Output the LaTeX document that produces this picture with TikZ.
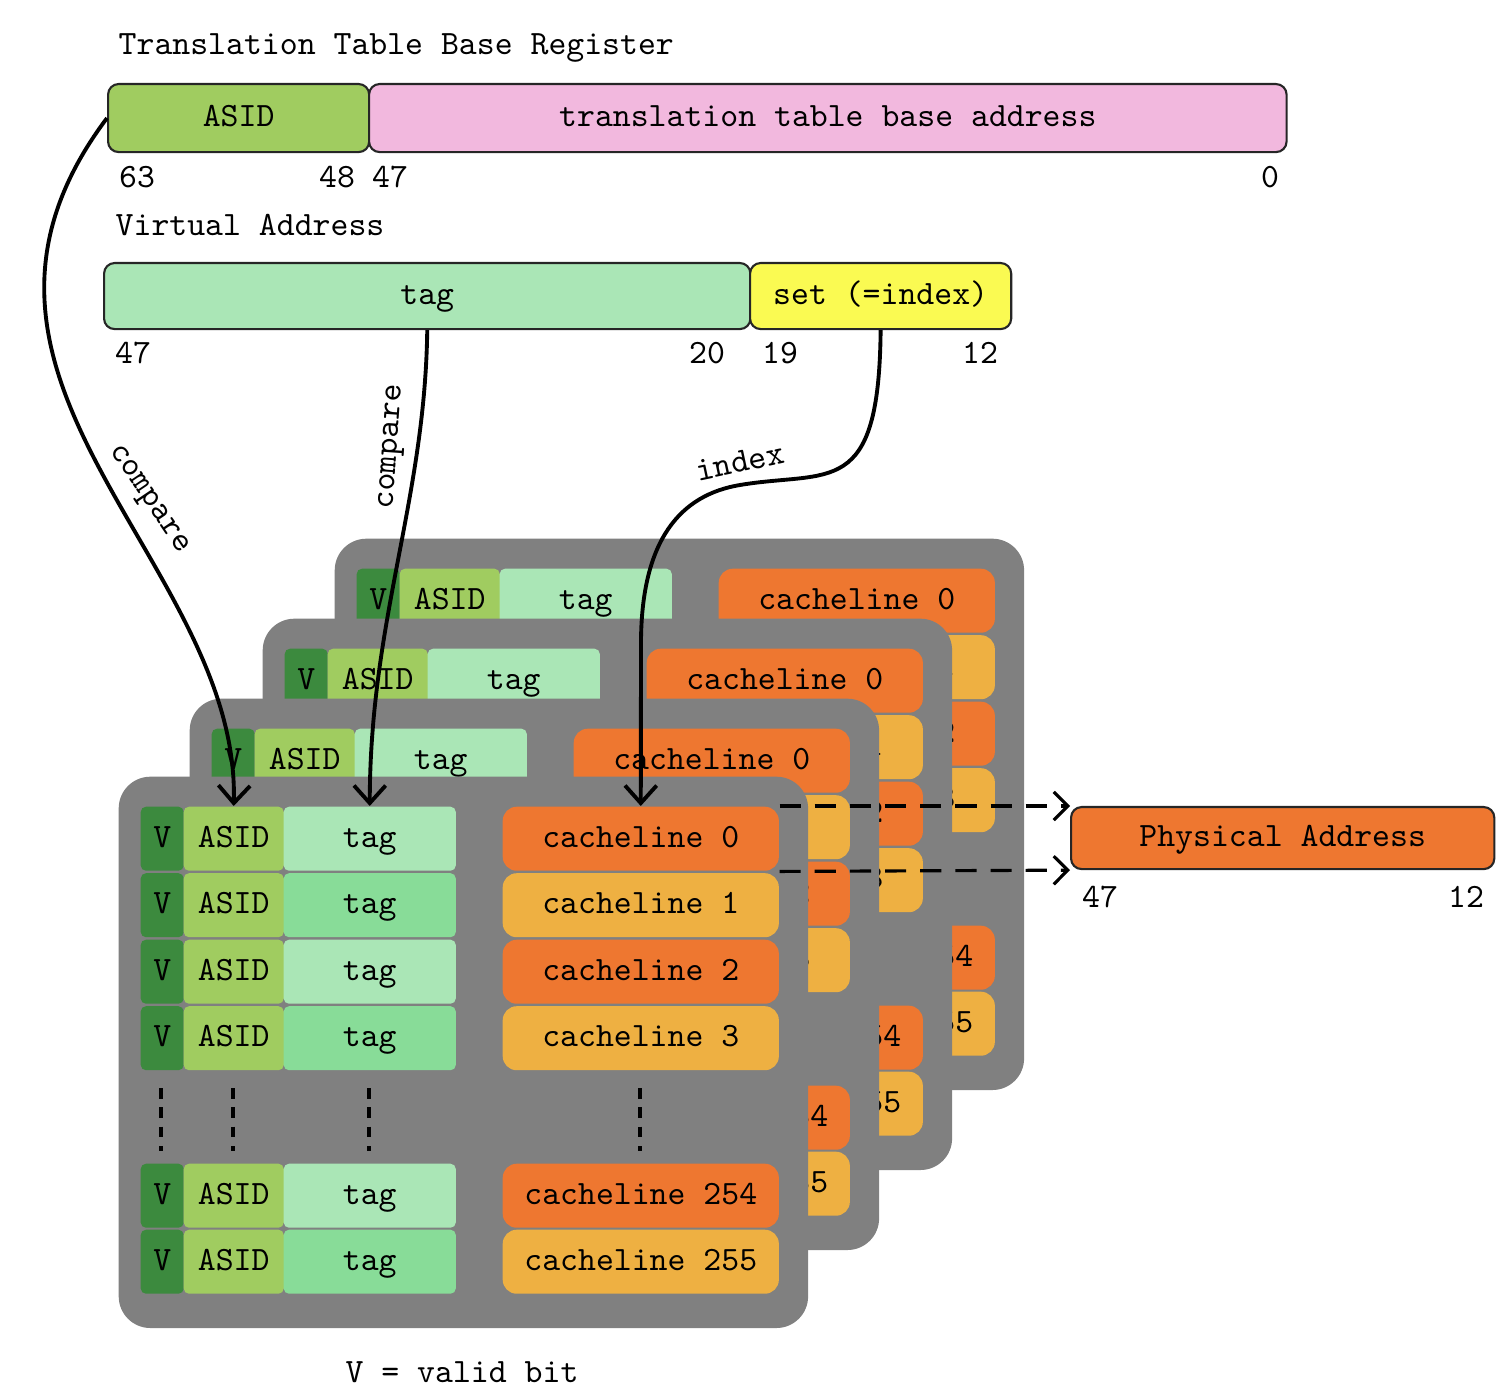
\documentclass[tikz,border=0pt]{standalone}
\usepackage{fontspec}
\usepackage{tikz}
\usetikzlibrary{arrows.meta, positioning}

\newcommand{\handfont}{\ttfamily\fontsize{9.7}{11}\selectfont}

\definecolor{asidgreen}{RGB}{160,204,96}
\definecolor{vgreen}{RGB}{60,138,62}
\definecolor{tagA}{RGB}{170,230,182}
\definecolor{tagB}{RGB}{136,220,152}
\definecolor{basepink}{RGB}{242,184,222}
\definecolor{setyellow}{RGB}{250,250,82}
\definecolor{clA}{RGB}{238,119,48}
\definecolor{clB}{RGB}{238,176,66}
\definecolor{panelgray}{RGB}{128,128,128}

\tikzset{
  regbox/.style={rectangle, rounded corners=3pt, draw=black!85,
                 line width=0.6pt, anchor=north west, inner sep=0pt,
                 text height=1.6ex, text depth=0.45ex, font=\handfont},
  plaintext/.style={inner sep=0pt, font=\handfont},
  titletext/.style={plaintext, anchor=west},
  panel/.style={rectangle, rounded corners=9pt, fill=panelgray,
                anchor=north west, inner sep=0pt,
                minimum width=6.89cm, minimum height=5.51cm},
  cell/.style={rectangle, rounded corners=1.5pt, anchor=north west,
               inner sep=0pt, minimum height=0.64cm,
               text height=1.6ex, text depth=0.45ex, font=\handfont},
  vcell/.style={cell, fill=vgreen, minimum width=0.43cm},
  asidcell/.style={cell, fill=asidgreen, minimum width=1.0cm},
  tagcell/.style={cell, minimum width=1.72cm},
  clcell/.style={cell, rounded corners=4pt, minimum width=2.76cm},
  moredots/.style={line width=1.2pt, dash pattern=on 3pt off 2.5pt},
  cmparrow/.style={-{Straight Barb[length=5pt, width=9pt]},
                   line width=1.1pt},
  dasharrow/.style={-{Straight Barb[length=4pt, width=8pt]},
                    line width=0.9pt, dash pattern=on 6pt off 4pt},
}

\begin{document}
\begin{tikzpicture}[x=0.01cm, y=-0.01cm]
  \useasboundingbox (0,0) rectangle (1512,1398);

  % Translation table base register
  \node[titletext] (ttbr-title) at (118,48) {Translation Table Base Register};
  \node[regbox, fill=asidgreen, minimum width=2.61cm,
        minimum height=0.68cm] (ttbr-asid) at (107,83) {ASID};
  \node[regbox, fill=basepink, minimum width=9.17cm,
        minimum height=0.68cm] (ttbr-base) at (368,83)
    {translation table base address};
  \node[plaintext] (b63) at (137,177) {63};
  \node[plaintext] (b48) at (337,177) {48};
  \node[plaintext] (b47) at (390,177) {47};
  \node[plaintext] (b0)  at (1270,177) {0};

  % Virtual address
  \node[titletext] (va-title) at (115,225) {Virtual Address};
  \node[regbox, fill=tagA, minimum width=6.46cm,
        minimum height=0.66cm] (va-tag) at (103,262) {tag};
  \node[regbox, fill=setyellow, minimum width=2.61cm,
        minimum height=0.66cm] (va-set) at (749,262) {set (=index)};
  \node[plaintext] (v47) at (133,353) {47};
  \node[plaintext] (v20) at (707,353) {20};
  \node[plaintext] (v19) at (780,353) {19};
  \node[plaintext] (v12) at (980,353) {12};

  % Cache ways, back to front
  \foreach \p/\ox/\oy in {4/334/538, 3/262/618, 2/189/698, 1/118/776} {
    \node[panel] (panel-\p) at (\ox,\oy) {};
    \foreach \r/\ry/\tagc/\clc in {0/30/tagA/clA, 1/96.5/tagB/clB,
        2/163/tagA/clA, 3/229.5/tagB/clB,
        254/387/tagA/clA, 255/453/tagB/clB} {
      \node[vcell] (v-\p-\r) at (\ox+22,\oy+\ry) {V};
      \node[asidcell] (asid-\p-\r) at (\ox+65,\oy+\ry) {ASID};
      \node[tagcell, fill=\tagc] (tag-\p-\r) at (\ox+165,\oy+\ry) {tag};
      \node[clcell, fill=\clc] (cl-\p-\r) at (\ox+384,\oy+\ry)
        {cacheline \r};
    }
    \foreach \dx in {43,115,251,522}
      \draw[moredots] (\ox+\dx,\oy+312) -- (\ox+\dx,\oy+375);
  }

  % Physical address
  \node[regbox, fill=clA, minimum width=4.23cm,
        minimum height=0.62cm] (pa) at (1070,806) {Physical Address};
  \node[plaintext] (p47) at (1100,897) {47};
  \node[plaintext] (p12) at (1466,897) {12};

  \node[plaintext] (valid) at (462,1372) {V = valid bit};

  % Compare and index
  \draw[cmparrow] (ttbr-asid.west) .. controls (-90,380) and (240,560)
    .. (asid-1-0.north);
  \node[plaintext, rotate=-56] (cmp-asid) at (148,500) {compare};

  \draw[cmparrow] (va-tag.south) .. controls (425,500) and (370,620)
    .. (tag-1-0.north);
  \node[plaintext, rotate=86] (cmp-tag) at (393,447) {compare};

  \draw[cmparrow] (va-set.south) .. controls (879,500) and (830,470)
    .. (740,485) .. controls (680,495) and (642,540) .. (641,640)
    -- (cl-1-0.north);
  \node[plaintext, rotate=12] (idx) at (740,462) {index};

  % Hit
  \draw[dasharrow] (cl-1-0.north east) -- (pa.north west);
  \draw[dasharrow] (cl-1-0.south east) -- (pa.south west);
\end{tikzpicture}
\end{document}
